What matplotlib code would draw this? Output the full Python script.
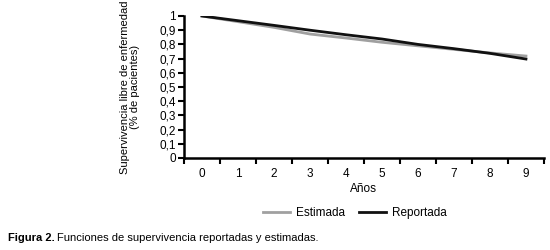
import numpy as np
import matplotlib.pyplot as plt
from matplotlib.lines import Line2D

# Datos
anios = [0, 1, 2, 3, 4, 5, 6, 7, 8, 9]
estimada = [1.0, 0.96, 0.92, 0.873, 0.845, 0.815, 0.79, 0.765, 0.74, 0.718]
reportada = [1.0, 0.967, 0.934, 0.90, 0.868, 0.838, 0.80, 0.77, 0.737, 0.697]
y_ticks = [0, 0.1, 0.2, 0.3, 0.4, 0.5, 0.6, 0.7, 0.8, 0.9, 1]

plt.rcParams['font.family'] = ['Liberation Sans', 'DejaVu Sans']

fig = plt.figure(figsize=(5.5, 2.5), dpi=100)
ax = fig.add_axes([0.3345, 0.368, 0.6545, 0.568])

ax.plot(anios, estimada, color='#a0a0a0', lw=2, label='Estimada')
ax.plot(anios, reportada, color='#111111', lw=2, label='Reportada')

ax.set_xlim(-0.5, 9.5)
ax.set_ylim(0, 1)
ax.set_xticks(anios)
ax.set_xticklabels([str(a) for a in anios])
ax.set_xticks(np.arange(-0.5, 10, 1), minor=True)
ax.tick_params(axis='x', which='major', length=0, pad=7, labelsize=8.5)
ax.tick_params(axis='x', which='minor', length=4, width=1.5, direction='out')
ax.set_yticks(y_ticks)
ax.set_yticklabels([('%g' % v).replace('.', ',') for v in y_ticks])
ax.tick_params(axis='y', length=4, width=1.5, direction='out', pad=2, labelsize=8.5)

for s in ['top', 'right']:
    ax.spines[s].set_visible(False)
for s in ['left', 'bottom']:
    ax.spines[s].set_linewidth(1.8)

ax.set_xlabel('Años', fontsize=8.5, labelpad=2)
ax.set_ylabel('Supervivencia libre de enfermedad\n(% de pacientes)', fontsize=8,
              linespacing=1.0, labelpad=14)

handles = [Line2D([0], [0], color='#a0a0a0', lw=2), Line2D([0], [0], color='#111111', lw=2)]
fig.legend(handles, ['Estimada', 'Reportada'], loc='center', bbox_to_anchor=(0.645, 0.148),
           ncol=2, frameon=False, fontsize=8.5, handlelength=2.3, handletextpad=0.5,
           columnspacing=1.2)

fig.text(0.015, 0.028, 'Figura 2.', fontsize=8, fontweight='bold', va='bottom')
fig.text(0.103, 0.028, 'Funciones de supervivencia reportadas y estimadas.', fontsize=8,
         va='bottom')

fig.savefig('out.png', dpi=100)
